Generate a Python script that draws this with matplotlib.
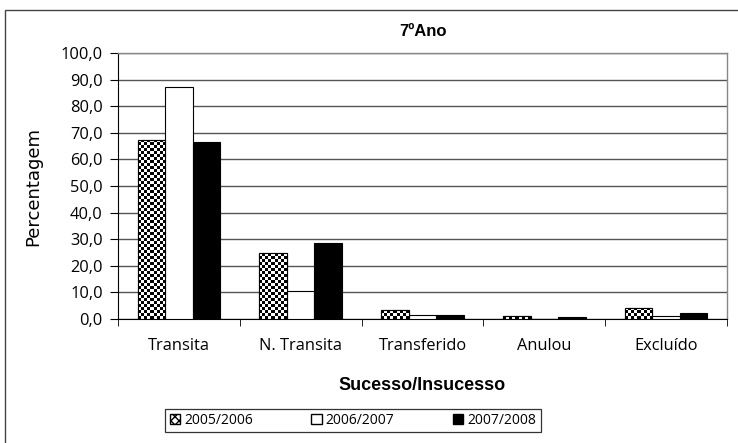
import numpy as np
import matplotlib.pyplot as plt
from matplotlib.patches import Patch, Rectangle

# ---- данные ----
categorias = ['Transita', 'N. Transita', 'Transferido', 'Anulou', 'Excluído']
anos = ['2005/2006', '2006/2007', '2007/2008']
v_2005 = [67.2, 24.8, 3.2, 1.0, 4.0]
v_2006 = [87.3, 10.6, 1.5, 0.0, 1.2]
v_2007 = [66.6, 28.7, 1.5, 0.9, 2.1]
series = [v_2005, v_2006, v_2007]

W, H = 738, 443
fig = plt.figure(figsize=(W / 100, H / 100), dpi=100)
ax = fig.add_axes([118 / W, 1 - 319 / H, (727 - 118) / W, (319 - 53) / H])

tick_font = ['Open Sans', 'DejaVu Sans']
bold_font = ['Liberation Sans Narrow', 'Liberation Sans', 'DejaVu Sans']

x = np.arange(len(categorias))
bw = 0.226
faces = ['white', 'white', 'black']
bars_all = []
for i, vals in enumerate(series):
    bars = ax.bar(x + (i - 1) * bw, vals, width=bw, color=faces[i],
                  edgecolor='black', linewidth=0.8, zorder=3)
    bars_all.append(bars)

ax.set_xlim(-0.5, len(categorias) - 0.5)
ax.set_ylim(0, 100)

# ---- xadrez para 2005/2006 ----
px_x = (727 - 118) / len(categorias)   # px por unidade x
px_y = (319 - 53) / 100.0               # px por unidade y
sq = 3.0
for b in bars_all[0]:
    h = b.get_height()
    if h <= 0:
        continue
    nx = max(1, int(round(b.get_width() * px_x / sq)))
    ny = max(1, int(round(h * px_y / sq)))
    jj, ii = np.meshgrid(np.arange(nx), np.arange(ny))
    board = ((ii + jj) % 2).astype(float)
    im = ax.imshow(board, cmap='gray', vmin=0, vmax=1, interpolation='nearest',
                   extent=[b.get_x(), b.get_x() + b.get_width(), 0, ny * sq / px_y],
                   aspect='auto', origin='lower', zorder=3.5)
    im.set_clip_path(b)
    ax.add_patch(Rectangle((b.get_x(), 0), b.get_width(), h, fill=False,
                           edgecolor='black', linewidth=0.8, zorder=4))

ax.set_xlim(-0.5, len(categorias) - 0.5)
ax.set_ylim(0, 100)

# ---- eixos ----
ax.set_yticks(np.arange(0, 101, 10))
ax.set_yticklabels([f'{v:.1f}'.replace('.', ',') for v in np.arange(0, 101, 10)],
                   family=tick_font, fontsize=11.8)
ax.set_xticks(x)
ax.set_xticklabels(categorias, family=tick_font, fontsize=11.8)
ax.tick_params(axis='x', length=0, pad=14)
ax.set_xticks(np.arange(-0.5, len(categorias), 1), minor=True)
ax.tick_params(axis='x', which='minor', length=5, direction='out', color='black')
ax.tick_params(axis='y', length=6, direction='out', color='black', pad=5)

ax.yaxis.grid(True, color='#555555', linewidth=1.0, zorder=0)
ax.set_axisbelow(True)
for s in ['top', 'right']:
    ax.spines[s].set_color('#888888')
    ax.spines[s].set_linewidth(1.0)
ax.spines['left'].set_color('black')
ax.spines['bottom'].set_color('black')

ax.set_ylabel('Percentagem', family=['DejaVu Sans'], fontsize=13, labelpad=13)
ax.set_xlabel('Sucesso/Insucesso', family=bold_font, fontsize=13,
              fontweight='bold', labelpad=16)
fig.text((118 + 727) / 2 / W, 1 - 31 / H, '7ºAno', family=bold_font,
         fontsize=12, fontweight='bold', ha='center', va='center')

# ---- legenda ----
handles = [Patch(facecolor='white', edgecolor='black', hatch='xxxx', label=anos[0]),
           Patch(facecolor='white', edgecolor='black', label=anos[1]),
           Patch(facecolor='black', edgecolor='black', label=anos[2])]
leg = fig.legend(handles=handles, loc='center', ncol=3,
                 bbox_to_anchor=(353 / W, 1 - 420.5 / H),
                 prop={'family': tick_font, 'size': 10}, frameon=True,
                 fancybox=False, edgecolor='black', handlelength=0.75,
                 handleheight=0.75, handletextpad=0.3, columnspacing=4.2,
                 borderpad=0.3)
leg.get_frame().set_linewidth(0.9)

# moldura externa
fig.patches.append(Rectangle((5 / W, -0.05), 1.1, 1 - 10 / H + 0.05,
                             transform=fig.transFigure, fill=False,
                             edgecolor='#444444', linewidth=1.0))

fig.savefig('out.png', dpi=100)
